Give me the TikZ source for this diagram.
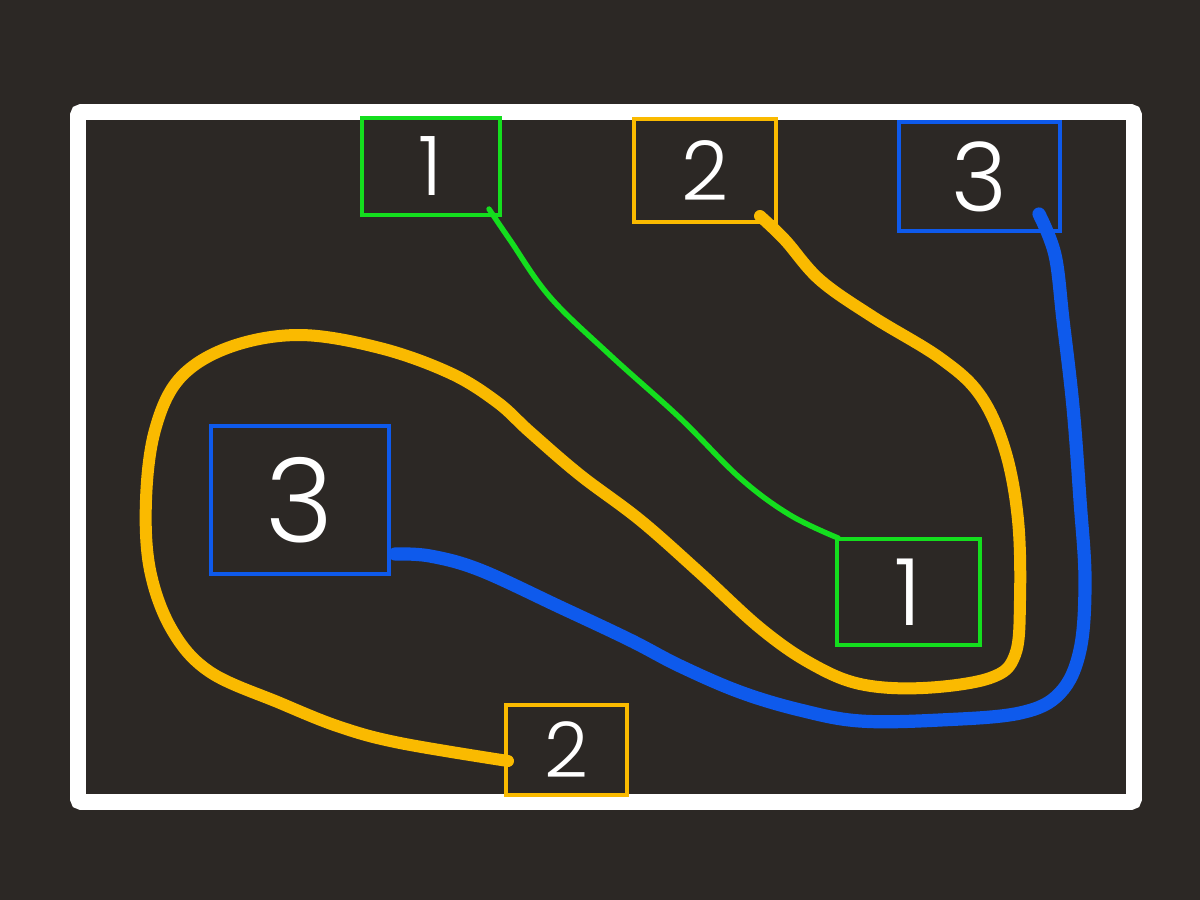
\documentclass[tikz,border=0pt]{standalone}
\usepackage{fontspec}
\newfontfamily\digitfont{Poppins Light}
\definecolor{board}{RGB}{44,40,37}
\definecolor{cgreen}{RGB}{20,222,30}
\definecolor{corange}{RGB}{250,186,0}
\definecolor{cblue}{RGB}{14,90,236}
\begin{document}
\begin{tikzpicture}[x=0.05cm,y=-0.05cm,
  box/.style 2 args={draw, line width=0.2cm, inner sep=0pt, text=white,
     minimum width=#1*0.05cm, minimum height=#2*0.05cm},
  dsize/.style={font=\digitfont\fontsize{#1}{#1}\selectfont},
  stroke/.style={line width=#1, line cap=round, line join=round},
  gline/.style={cgreen, stroke=0.27cm},
  oline/.style={corange, stroke=0.6cm},
  bline/.style={cblue, stroke=0.66cm}]
\fill[board] (0,0) rectangle (1200,900);
\useasboundingbox (0,0) rectangle (1200,900);
% frame
\draw[white, line width=0.78cm, rounded corners=0.15cm] (78,112) rectangle (1134,802);
% boxes
\node[box={138}{97}, draw=cgreen, dsize=117] (g1) at (431,166.5) {1};
\node[box={142}{103}, draw=corange, dsize=117] (o1) at (705,170.5) {2};
\node[box={161}{109}, draw=cblue, dsize=136] (b1) at (979.5,176.5) {3};
\node[box={178}{148}, draw=cblue, dsize=166] (b2) at (300,500) {3};
\node[box={143}{106}, draw=cgreen, dsize=132] (g2) at (908.5,592) {1};
\node[box={121}{90}, draw=corange, dsize=109] (o2) at (566.5,750) {2};
% connector end points
\coordinate (gs) at ([shift={(-13,-8)}]g1.south east);
\coordinate (ge) at ([shift={(3,1)}]g2.north west);
\coordinate (os) at ([shift={(-18,-8)}]o1.south east);
\coordinate (oe) at ([shift={(4,11)}]o2.west);
\coordinate (bs) at ([shift={(-23,-19)}]b1.south east);
\coordinate (be) at ([shift={(4,-22)}]b2.south east);
% green
\draw[gline] plot[smooth, tension=0.6] coordinates {(gs) (510,240) (550,297) (610,355) (680,418) (740,478) (790,515) (ge)};
% orange
\draw[oline] plot[smooth, tension=0.6] coordinates {(os) (785,240) (820,280) (873,317) (940,358) (980,395) (1005,450) (1018,520) (1020,600) (1015,655) (990,678) (923,688) (860,684) (810,663) (760,628) (700,573) (640,520) (580,475) (530,432) (497,402) (450,373) (380,348) (300,335) (230,347) (180,378) (155,430) (146,500) (150,570) (172,630) (210,672) (280,703) (340,727) (400,743) (oe)};
% blue
\draw[bline] plot[smooth, tension=0.6] coordinates {(bs) (1055,255) (1063,320) (1073,407) (1080,500) (1085,580) (1080,650) (1060,693) (1020,713) (940,720) (860,721) (800,710) (740,692) (680,666) (630,640) (560,607) (480,570) (430,556) (be)};
\end{tikzpicture}
\end{document}
